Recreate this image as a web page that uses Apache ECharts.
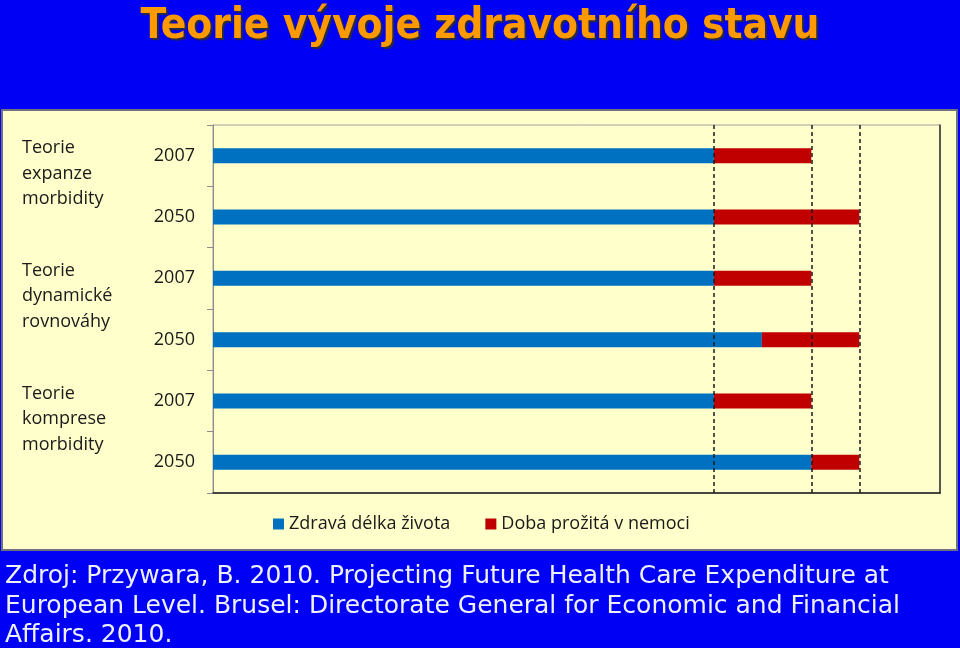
<!DOCTYPE html>
<html>
<head>
<meta charset="utf-8">
<script src="https://cdn.jsdelivr.net/npm/echarts@6/dist/echarts.min.js"></script>
<style>
html,body{margin:0;padding:0;background:#0000F5;}
#c{width:960px;height:648px;}
</style>
</head>
<body>
<div id="c"></div>
<script>
var categories = ['2007', '2050', '2007', '2050', '2007', '2050'];
var groupNames = ['Teorie\nexpanze\nmorbidity', 'Teorie\ndynamické\nrovnováhy', 'Teorie\nkomprese\nmorbidity'];
var healthy = [68.9, 68.9, 68.9, 75.5, 68.9, 82.3];
var sick = [13.4, 20.0, 13.4, 13.4, 13.4, 6.6];
var refLines = [68.9, 82.3, 88.9];
var seriesNames = ['Zdravá délka života', 'Doba prožitá v nemoci'];
var titleText = 'Teorie vývoje zdravotního stavu';
var sourceText = 'Zdroj: Przywara, B. 2010. Projecting Future Health Care Expenditure at\nEuropean Level. Brusel: Directorate General for Economic and Financial\nAffairs. 2010.';

var chart = echarts.init(document.getElementById('c'));
var font = '"Open Sans", "Noto Sans", sans-serif';
chart.setOption({
  backgroundColor: '#0000F5',
  animation: false,
  title: {
    text: titleText,
    left: 'center',
    top: 1,
    textStyle: {
      color: '#FF9900',
      fontSize: 42,
      fontWeight: 'bold',
      fontFamily: '"DejaVu Sans Condensed", "DejaVu Sans", sans-serif',
      textShadowColor: '#2a2a40',
      textShadowOffsetX: 2,
      textShadowOffsetY: 2,
      textShadowBlur: 1
    }
  },
  graphic: [
    {
      type: 'rect', z: -10, silent: true,
      shape: { x: 2, y: 110, width: 955, height: 440 },
      style: { fill: '#FFFFCC', stroke: '#6f6f80', lineWidth: 2 }
    },
    {
      type: 'text', z: 10, silent: true,
      left: 5, top: 562,
      style: {
        text: sourceText,
        fill: '#EEF0FF',
        fontSize: 25,
        lineHeight: 29.5,
        fontFamily: '"DejaVu Sans", Verdana, sans-serif'
      }
    }
  ],
  legend: {
    left: 273, top: 515, padding: 0,
    itemWidth: 11, itemHeight: 11, itemGap: 35,
    icon: 'rect',
    textStyle: { fontSize: 18, color: '#1a1a1a', fontFamily: font },
    data: seriesNames
  },
  grid: {
    left: 213, right: 20, top: 125, bottom: 155,
    show: true, borderColor: '#a0a0a0', borderWidth: 1, backgroundColor: 'transparent'
  },
  xAxis: {
    type: 'value', min: 0, max: 100,
    axisLine: { show: true, lineStyle: { color: '#1a1a1a', width: 1.5 } },
    axisTick: { show: false },
    axisLabel: { show: false },
    splitLine: { show: false }
  },
  yAxis: [
    {
      type: 'category', inverse: true, data: categories,
      axisLine: { show: true, lineStyle: { color: '#8c8c8c' } },
      axisTick: { show: true, length: 6, lineStyle: { color: '#8c8c8c' } },
      axisLabel: { interval: 0, fontSize: 18, color: '#1a1a1a', fontFamily: font, margin: 18 }
    },
    {
      type: 'category', inverse: true, data: groupNames, position: 'left',
      axisLine: { show: false }, axisTick: { show: false },
      axisLabel: {
        interval: 0, hideOverlap: false,
        fontSize: 18, color: '#1a1a1a', fontFamily: font,
        align: 'left', margin: 191, lineHeight: 25.5,
        formatter: function (v) { return v + '\n'; }
      }
    },
    {
      type: 'category', inverse: true, data: categories, position: 'right',
      axisLine: { show: true, lineStyle: { color: '#333333', width: 1.5 } },
      axisTick: { show: false }, axisLabel: { show: false }
    }
  ],
  series: [
    {
      name: seriesNames[0], type: 'bar', stack: 'total', barWidth: 15,
      itemStyle: { color: '#0070C0' },
      data: healthy,
      markLine: {
        silent: true, symbol: 'none', z: 10,
        label: { show: false },
        lineStyle: { color: '#1a1a1a', type: [4, 3], width: 1.5 },
        data: refLines.map(function (v) { return { xAxis: v }; })
      }
    },
    {
      name: seriesNames[1], type: 'bar', stack: 'total', barWidth: 15,
      itemStyle: { color: '#C00000' },
      data: sick
    }
  ]
});
</script>
</body>
</html>
